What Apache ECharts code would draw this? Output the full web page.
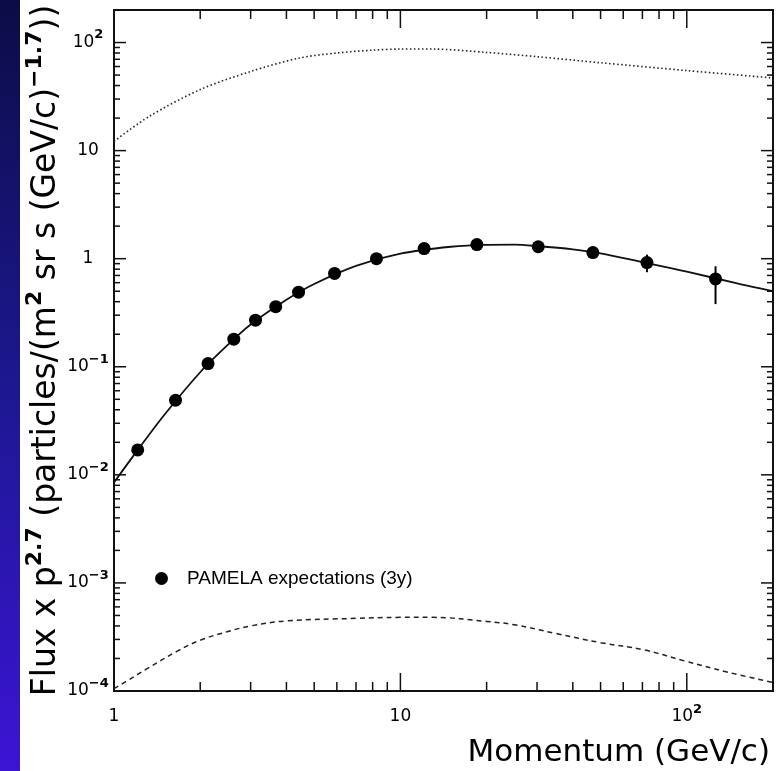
<!DOCTYPE html>
<html><head><meta charset="utf-8">
<script src="https://cdn.jsdelivr.net/npm/echarts@6/dist/echarts.min.js"></script>
<style>html,body{margin:0;padding:0;background:#fff}#c{width:776px;height:771px}</style>
</head><body><div id="c"></div>
<script>
// ---- data ----
const pamelaP    = [1.21, 1.64, 2.13, 2.62, 3.12, 3.67, 4.41, 5.89, 8.25, 12.1, 18.5, 30.3, 47, 72.6, 126];
const pamelaFlux = [0.017, 0.049, 0.107, 0.18, 0.27, 0.36, 0.49, 0.73, 1.0, 1.24, 1.35, 1.29, 1.14, 0.92, 0.65];
const pamelaErrLow  = [0.017, 0.049, 0.107, 0.18, 0.27, 0.36, 0.49, 0.73, 1.0, 1.24, 1.35, 1.29, 1.03, 0.75, 0.38];
const pamelaErrHigh = [0.017, 0.049, 0.107, 0.18, 0.27, 0.36, 0.49, 0.73, 1.0, 1.24, 1.35, 1.29, 1.22, 1.09, 0.85];

const fitP    = [1, 1.2, 1.5, 2, 2.5, 3, 4, 5, 7, 10, 15, 20, 25, 30, 40, 50, 70, 100, 150, 200];
const fitFlux = [0.0085, 0.0165, 0.036, 0.089, 0.16, 0.246, 0.416, 0.583, 0.858, 1.114, 1.29, 1.345, 1.35, 1.31, 1.22, 1.12, 0.93, 0.76, 0.59, 0.5];

const upperP    = [1, 1.33, 2, 3, 4.45, 6, 8, 10, 13, 20, 30, 50, 100, 200];
const upperFlux = [12.2, 20.8, 36.7, 54, 72, 80, 85, 87, 87, 81, 74, 65, 55, 47];

const lowerP    = [1, 1.1, 1.3, 1.67, 2, 2.5, 3, 4, 7, 10, 13, 20, 25, 35, 50, 71, 98, 138, 200];
const lowerFlux = [1.05e-4, 1.22e-4, 1.6e-4, 2.35e-4, 2.95e-4, 3.55e-4, 4.0e-4, 4.45e-4, 4.7e-4, 4.8e-4, 4.8e-4, 4.4e-4, 4.1e-4, 3.4e-4, 2.8e-4, 2.4e-4, 1.9e-4, 1.5e-4, 1.2e-4];

const xMajorTicks = [10, 100];
const xMinorTicks = [2, 3, 4, 5, 6, 7, 8, 9, 20, 30, 40, 50, 60, 70, 80, 90];
const yMajorTicks = [0.001, 0.01, 0.1, 1, 10, 100];
const yMinorTicks = [
  2e-4, 3e-4, 4e-4, 5e-4, 6e-4, 7e-4, 8e-4, 9e-4,
  0.002, 0.003, 0.004, 0.005, 0.006, 0.007, 0.008, 0.009,
  0.02, 0.03, 0.04, 0.05, 0.06, 0.07, 0.08, 0.09,
  0.2, 0.3, 0.4, 0.5, 0.6, 0.7, 0.8, 0.9,
  2, 3, 4, 5, 6, 7, 8, 9,
  20, 30, 40, 50, 60, 70, 80, 90
];

const X_MIN = 1, X_MAX = 200, Y_MIN = 1e-4, Y_MAX = 200;
const legendName = 'PAMELA expectations (3y)';
const xTitle = 'Momentum (GeV/c)';
const yTitle = '{b|Flux x p}{s|2.7}{b| (particles/(m}{s|2}{b| sr s (GeV/c)}{s|\u22121.7}{b|))}';

// ---- chart ----
const FONT = 'DejaVu Sans';
const FONT2 = 'Liberation Sans';
const INK = '#111';
const chart = echarts.init(document.getElementById('c'), null, {renderer: 'canvas'});

function decadeLabel(v) {
  const e = Math.round(Math.log10(v));
  if (Math.abs(Math.log10(v) - e) > 1e-6) return '';
  if (e === 0) return '{b|1}';
  if (e === 1) return '{b|10}';
  const sup = e < 0 ? '\u2212' + (-e) : String(e);
  return '{b|10}{s|' + sup + '}';
}
const tickRich = {
  b: {fontFamily: FONT, fontSize: 17, lineHeight: 28, color: '#000', verticalAlign: 'middle'},
  s: {fontFamily: FONT, fontSize: 13, fontWeight: 'bold', lineHeight: 13, color: '#000', padding: [0, 0, 15, 0]}
};
const tickRichY = {
  b: {fontFamily: FONT, fontSize: 17, lineHeight: 19, color: '#000', verticalAlign: 'middle'},
  s: {fontFamily: FONT, fontSize: 13, fontWeight: 'bold', lineHeight: 13, color: '#000', padding: [0, 0, 15, 0]}
};

function tickSeries(vals, axis, major) {
  return {
    type: 'custom', silent: true, z: 5, clip: false,
    data: vals.map(v => axis === 'x' ? [v, Y_MIN] : [X_MIN, v]),
    encode: {x: 0, y: 1},
    renderItem: (params, api) => {
      const st = {stroke: INK, lineWidth: 1.5};
      if (axis === 'x') {
        const v = api.value(0);
        const b = api.coord([v, Y_MIN]), t = api.coord([v, Y_MAX]);
        const L = major ? 18 : 9;
        return {type: 'group', children: [
          {type: 'line', shape: {x1: b[0], y1: b[1], x2: b[0], y2: b[1] - L}, style: st},
          {type: 'line', shape: {x1: t[0], y1: t[1], x2: t[0], y2: t[1] + L}, style: st}
        ]};
      } else {
        const v = api.value(1);
        const l = api.coord([X_MIN, v]), r = api.coord([X_MAX, v]);
        const L = major ? 12 : 6;
        return {type: 'group', children: [
          {type: 'line', shape: {x1: l[0], y1: l[1], x2: l[0] + L, y2: l[1]}, style: st},
          {type: 'line', shape: {x1: r[0], y1: r[1], x2: r[0] - L, y2: r[1]}, style: st}
        ]};
      }
    }
  };
}

const option = {
  animation: false,
  backgroundColor: '#fff',
  textStyle: {fontFamily: FONT},
  graphic: [{
    type: 'rect', left: 0, top: 0, z: -10, silent: true,
    shape: {width: 20, height: 771},
    style: {fill: new echarts.graphic.LinearGradient(0, 0, 0, 1, [
      {offset: 0, color: '#0c0c48'},
      {offset: 0.5, color: '#1c1890'},
      {offset: 1, color: '#3c14d4'}
    ])}
  }],
  grid: {left: 114, right: 3, top: 10, bottom: 80, show: true, borderColor: INK, borderWidth: 2, backgroundColor: 'transparent'},
  legend: {
    data: [{name: legendName, icon: 'circle'}],
    left: 155, top: 569, padding: 0, itemWidth: 13, itemHeight: 13,
    textStyle: {fontFamily: FONT2, fontSize: 19, color: '#000', padding: [0, 0, 0, 14]}
  },
  xAxis: {
    type: 'log', logBase: 10, min: X_MIN, max: X_MAX,
    axisLine: {show: false}, axisTick: {show: false}, splitLine: {show: false}, minorTick: {show: false},
    axisLabel: {margin: 12, formatter: decadeLabel, rich: tickRich, showMaxLabel: true},
    name: xTitle, nameLocation: 'end', nameGap: -3, nameMoveOverlap: false,
    nameTextStyle: {fontFamily: FONT, fontSize: 31, color: '#000', align: 'right', verticalAlign: 'top', padding: [46, 0, 0, 0]}
  },
  yAxis: {
    type: 'log', logBase: 10, min: Y_MIN, max: Y_MAX,
    axisLine: {show: false}, axisTick: {show: false}, splitLine: {show: false}, minorTick: {show: false},
    axisLabel: {margin: 26, align: 'center', formatter: decadeLabel, rich: tickRichY},
    name: yTitle, nameLocation: 'middle', nameGap: 68, nameRotate: 90, nameMoveOverlap: false,
    nameTextStyle: {align: 'center', verticalAlign: 'middle', rich: {
      b: {fontFamily: FONT, fontSize: 33, lineHeight: 44, color: '#000', verticalAlign: 'middle'},
      s: {fontFamily: FONT, fontSize: 22, fontWeight: 'bold', lineHeight: 22, color: '#000', padding: [0, 0, 22, 0]}
    }}
  },
  series: [
    {type: 'line', name: 'fit', data: fitP.map((p, i) => [p, fitFlux[i]]), showSymbol: false, smooth: 0.3, silent: true,
      lineStyle: {color: INK, width: 1.8}, z: 3},
    {type: 'line', name: 'upper', data: upperP.map((p, i) => [p, upperFlux[i]]), showSymbol: false, smooth: 0.3, silent: true,
      lineStyle: {color: '#222', width: 1.6, type: [1.5, 2.5]}, z: 3},
    {type: 'line', name: 'lower', data: lowerP.map((p, i) => [p, lowerFlux[i]]), showSymbol: false, smooth: 0.4, silent: true,
      lineStyle: {color: '#222', width: 1.5, type: [5, 4]}, z: 3},
    {type: 'custom', name: 'errors', silent: true, z: 4,
      data: pamelaP.map((p, i) => [p, pamelaErrLow[i], pamelaErrHigh[i]]),
      encode: {x: 0, y: [1, 2]},
      renderItem: (params, api) => {
        const a = api.coord([api.value(0), api.value(1)]);
        const b = api.coord([api.value(0), api.value(2)]);
        return {type: 'line', shape: {x1: a[0], y1: a[1], x2: b[0], y2: b[1]}, style: {stroke: '#000', lineWidth: 2}};
      }},
    {type: 'scatter', name: legendName, data: pamelaP.map((p, i) => [p, pamelaFlux[i]]), symbol: 'circle', symbolSize: 13,
      itemStyle: {color: '#000', opacity: 1}, z: 6},
    tickSeries(xMajorTicks, 'x', true),
    tickSeries(xMinorTicks, 'x', false),
    tickSeries(yMajorTicks, 'y', true),
    tickSeries(yMinorTicks, 'y', false)
  ]
};
chart.setOption(option);
</script>
</body></html>
